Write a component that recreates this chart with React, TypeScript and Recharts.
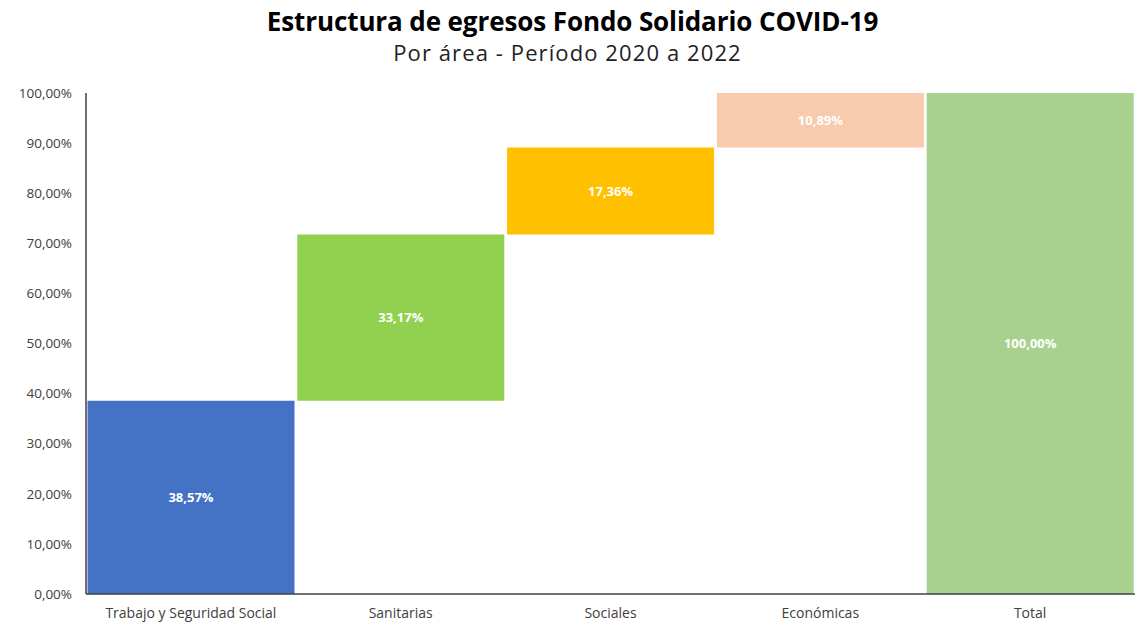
import { BarChart, Bar, XAxis, YAxis, LabelList, Cell } from "recharts";

const categories = ["Trabajo y Seguridad Social", "Sanitarias", "Sociales", "Económicas", "Total"];
const shares = [38.57, 33.17, 17.36, 10.89, 100.0];
const bases = [0, 38.57, 71.74, 89.1, 0];
const colors = ["#4472C4", "#92D050", "#FFC000", "#F8CBAD", "#A9D18E"];
const yTicks = [0, 10, 20, 30, 40, 50, 60, 70, 80, 90, 100];

const data = categories.map((name, i) => ({
  name,
  base: bases[i],
  value: shares[i],
}));

const pct = (v: number) => `${v.toFixed(2).replace(".", ",")}%`;
const font = "'Open Sans', 'Noto Sans', sans-serif";

export default function App() {
  return (
    <div style={{ position: "absolute", left: 0, top: 0, width: 1135, height: 628, background: "#ffffff", fontFamily: font }}>
      <BarChart
        width={1135}
        height={628}
        data={data}
        margin={{ top: 93, right: 0, left: 0, bottom: 0 }}
        barCategoryGap={1.5}
        style={{ position: "absolute", left: 0, top: 0 }}
      >
        <XAxis
          dataKey="name"
          height={34}
          tickLine={false}
          axisLine={{ stroke: "#404040", strokeWidth: 1.5 }}
          tick={{ fill: "#404040", fontSize: 14, fontFamily: font, dy: 6 }}
          interval={0}
        />
        <YAxis
          width={86}
          domain={[0, 100]}
          ticks={yTicks}
          tickFormatter={pct}
          tickLine={false}
          axisLine={{ stroke: "#404040", strokeWidth: 1.5 }}
          tick={{ fill: "#404040", fontSize: 13.5, fontFamily: font, dx: -6 }}
        />
        <Bar dataKey="base" stackId="w" fill="transparent" isAnimationActive={false} />
        <Bar dataKey="value" stackId="w" isAnimationActive={false}>
          {colors.map((c, i) => (
            <Cell key={i} fill={c} />
          ))}
          <LabelList
            dataKey="value"
            position="center"
            formatter={(v: any) => pct(Number(v))}
            fill="#ffffff"
            fontSize={13}
            fontWeight={700}
            fontFamily={font}
          />
        </Bar>
      </BarChart>
      <div style={{ position: "absolute", top: 5, left: 5, width: "100%", textAlign: "center", fontSize: 26, lineHeight: "32px", fontWeight: 700, color: "#000", letterSpacing: -0.1 }}>
        Estructura de egresos Fondo Solidario COVID-19
      </div>
      <div style={{ position: "absolute", top: 38, width: "100%", textAlign: "center", fontSize: 22, lineHeight: "28px", color: "#222", letterSpacing: 1.1 }}>
        Por área - Período 2020 a 2022
      </div>
    </div>
  );
}
